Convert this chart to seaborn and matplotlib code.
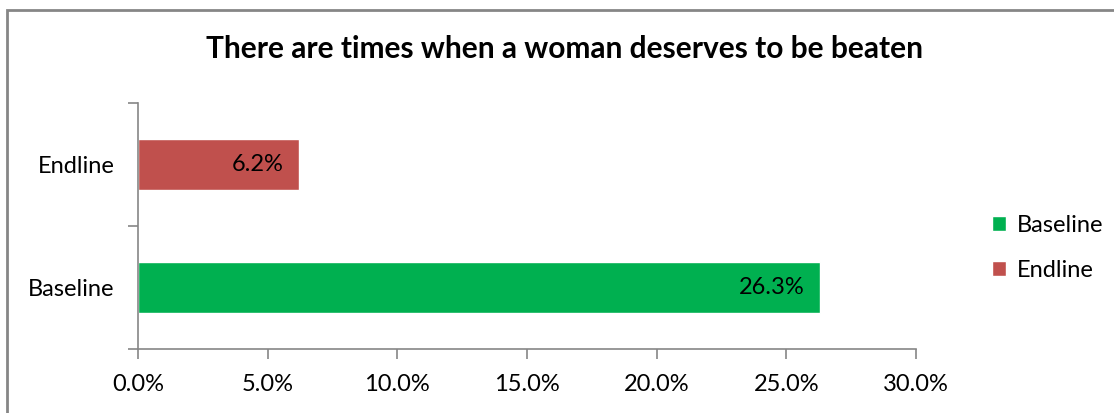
import matplotlib
matplotlib.use("Agg")
import matplotlib.pyplot as plt
import seaborn as sns
import pandas as pd
from matplotlib.patches import Rectangle, Patch
from matplotlib.ticker import FuncFormatter

categories = ["Endline", "Baseline"]
values = [6.2, 26.3]
colors = ["#C0504D", "#00B050"]
xticks = [0, 5, 10, 15, 20, 25, 30]
title = "There are times when a woman deserves to be beaten"

sns.set_theme(style="white")
plt.rcParams['font.family'] = ['Lato', 'DejaVu Sans']
plt.rcParams['text.color'] = 'black'

df = pd.DataFrame({"Survey": categories, "Value": values})

W, H = 1114, 413
fig = plt.figure(figsize=(W / 100, H / 100), dpi=100)
ax = fig.add_axes([138 / W, 1 - 349 / H, (916 - 138) / W, (349 - 103) / H])

sns.barplot(data=df, y="Survey", x="Value", hue="Survey", order=categories,
            palette=dict(zip(categories, colors)), orient="h", width=0.41,
            dodge=False, legend=False, ax=ax, saturation=1)

ax.set_xlim(0, 30)
ax.set_ylim(1.5, -0.5)
ax.set_xticks(xticks)
ax.xaxis.set_major_formatter(FuncFormatter(lambda v, p: f"{v:.1f}%"))
ax.set_yticks([-0.5, 0.5, 1.5], minor=False)
ax.set_yticklabels([])
ax.set_yticks([0, 1], minor=True)
ax.set_yticklabels(categories, minor=True)
ax.tick_params(axis="y", which="minor", left=True, length=0, pad=17, labelsize=17, colors="black")
ax.tick_params(axis="y", which="major", left=True, length=7, width=1.2, color="#868686", direction="out")
ax.tick_params(axis="x", bottom=True, length=7, width=1.2, color="#868686", direction="out", pad=11,
               labelsize=17, labelcolor="black")
ax.set_xlabel("")
ax.set_ylabel("")
for s in ["top", "right"]:
    ax.spines[s].set_visible(False)
for s in ["left", "bottom"]:
    ax.spines[s].set_color("#868686")
    ax.spines[s].set_linewidth(1.2)

for i, v in enumerate(values):
    ax.text(v - 0.6, i, f"{v}%", ha="right", va="center", fontsize=17, color="black")

fig.text(565 / W, 1 - 49 / H, title, ha="center", va="center", fontsize=21.5, fontweight="bold", color="black")

handles = [Patch(facecolor=colors[1], label=categories[1]), Patch(facecolor=colors[0], label=categories[0])]
leg = fig.legend(handles=handles, loc="center left", bbox_to_anchor=(992 / W, 1 - 248 / H), frameon=False,
                 fontsize=17, handlelength=0.6, handleheight=0.6, handletextpad=0.45, labelspacing=1.0,
                 borderaxespad=0, borderpad=0)
for t in leg.get_texts():
    t.set_color("black")

fig.patches.append(Rectangle((7 / W, -0.1), 1.2, 1 - 10 / H + 0.1, transform=fig.transFigure,
                             fill=False, edgecolor="#868686", linewidth=2))

fig.savefig("out.png", dpi=100)
